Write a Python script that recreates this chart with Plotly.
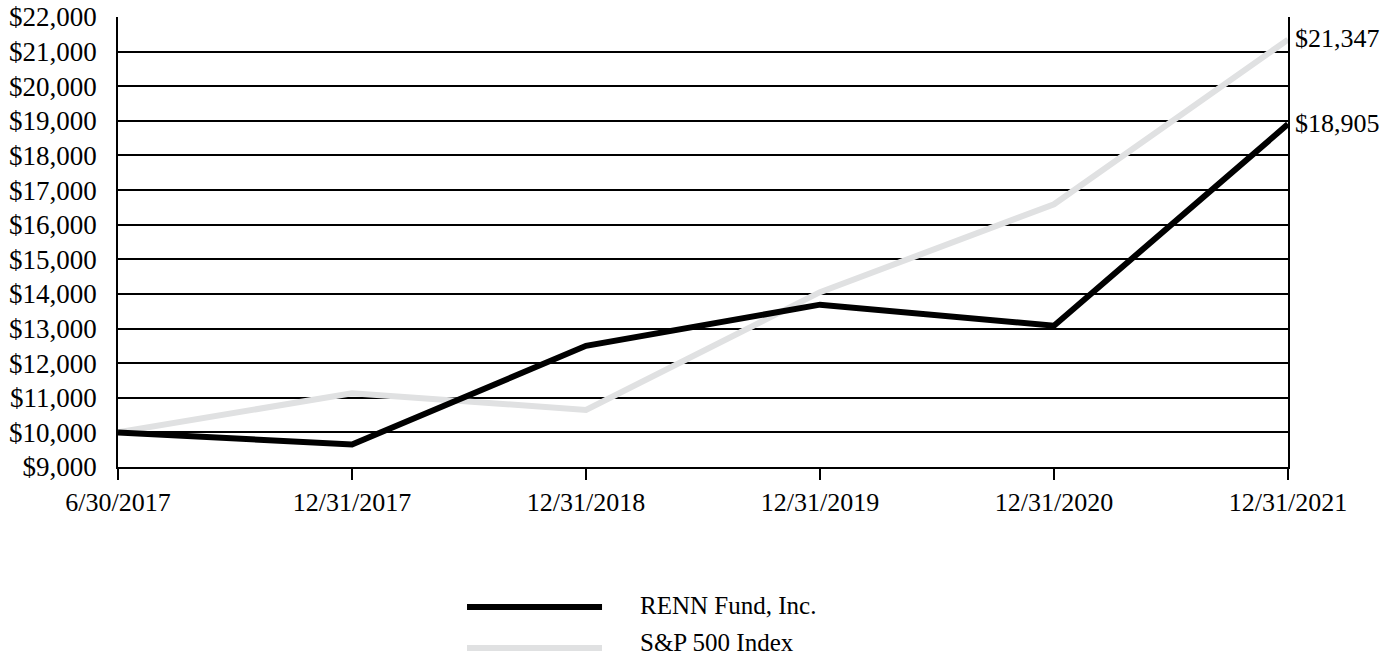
import plotly.graph_objects as go

dates = ["6/30/2017", "12/31/2017", "12/31/2018", "12/31/2019", "12/31/2020", "12/31/2021"]
renn = [10000, 9650, 12500, 13690, 13080, 18905]
sp500 = [10000, 11130, 10650, 14050, 16590, 21347]
y_ticks = list(range(9000, 22001, 1000))
series_names = ["RENN Fund, Inc.", "S&P 500 Index"]
series_colors = ["#000000", "#e0e1e2"]

FONT = "Liberation Serif, Times New Roman, serif"

fig = go.Figure()
fig.add_trace(go.Scatter(x=dates, y=sp500, mode="lines", name=series_names[1],
                         line=dict(color=series_colors[1], width=6), showlegend=False))
fig.add_trace(go.Scatter(x=dates, y=renn, mode="lines", name=series_names[0],
                         line=dict(color=series_colors[0], width=6), showlegend=False))

for vals in (sp500, renn):
    fig.add_annotation(x=dates[-1], y=vals[-1], text="${:,.0f}".format(vals[-1]),
                       xref="x", yref="y", xanchor="left", yanchor="middle",
                       xshift=5, yshift=1, showarrow=False,
                       font=dict(family=FONT, size=26, color="#000"))

# manual legend
legend_y = [-0.311, -0.402]
text_shift = [1, 5]
for name, color, ly, ts in zip(series_names, series_colors, legend_y, text_shift):
    fig.add_shape(type="line", xref="paper", yref="paper", x0=0.2983, x1=0.4137,
                  y0=ly, y1=ly, line=dict(color=color, width=6))
    fig.add_annotation(x=0.4453, y=ly, xref="paper", yref="paper", text=name,
                       xanchor="left", yanchor="middle", showarrow=False,
                       yshift=ts, borderpad=0,
                       font=dict(family=FONT, size=25, color="#000"))

fig.update_layout(
    width=1387, height=659,
    margin=dict(l=118, r=99, t=17, b=192),
    paper_bgcolor="white", plot_bgcolor="white",
    font=dict(family=FONT, size=26, color="#000"),
    showlegend=False,
)
fig.update_xaxes(type="category", range=[0, 5], showgrid=False, automargin=False,
                 showline=True, linecolor="#000", linewidth=1.5,
                 ticks="outside", ticklen=11, tickwidth=1.5, tickcolor="#000",
                 tickfont=dict(family=FONT, size=26, color="#000"))
fig.update_yaxes(range=[9000, 22000], tickvals=y_ticks, automargin=False,
                 ticktext=["${:,}".format(v) for v in y_ticks],
                 showgrid=True, gridcolor="#000", gridwidth=1.5,
                 showline=True, linecolor="#000", linewidth=1.5, mirror=True,
                 ticks="outside", ticklen=14, tickcolor="rgba(0,0,0,0)",
                 zeroline=False,
                 tickfont=dict(family=FONT, size=27, color="#000"))

fig.write_html("out.html", config={"displayModeBar": False},
               post_script="document.body.style.margin='0';document.body.style.overflow='hidden';")
